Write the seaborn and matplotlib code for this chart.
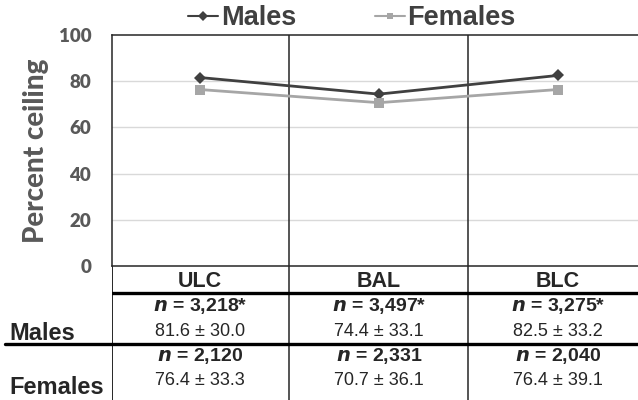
import pandas as pd
import matplotlib.pyplot as plt
from matplotlib.lines import Line2D
import seaborn as sns

regions = ['ULC', 'BAL', 'BLC']
male_mean = [81.6, 74.4, 82.5]
female_mean = [76.4, 70.7, 76.4]
male_sd = [30.0, 33.1, 33.2]
female_sd = [33.3, 36.1, 39.1]
male_n = ['3,218*', '3,497*', '3,275*']
female_n = ['2,120', '2,331', '2,040']
y_ticks = [0, 20, 40, 60, 80, 100]

df = pd.DataFrame({
    'Region': regions * 2,
    'Percent': male_mean + female_mean,
    'Sex': ['Males'] * 3 + ['Females'] * 3,
})

sns.set_style('white')
plt.rcParams['font.family'] = ['Liberation Sans', 'DejaVu Sans']

W, H = 638, 400
fig = plt.figure(figsize=(W / 100, H / 100), dpi=100)

def px_axes(x0, y0, x1, y1):
    return fig.add_axes([x0 / W, 1 - y1 / H, (x1 - x0) / W, (y1 - y0) / H])

ax = px_axes(112, 35, 638, 266)
colors = {'Males': '#404040', 'Females': '#a6a6a6'}
sns.lineplot(data=df, x='Region', y='Percent', hue='Sex', style='Sex',
             markers={'Males': 'D', 'Females': 's'}, dashes=False,
             palette=colors, sort=False, linewidth=2, markersize=6.5,
             markeredgewidth=0, ax=ax, legend=False, zorder=3)

ax.set_xlim(-0.49, 2.447)
ax.set_ylim(0, 100)
ax.set_yticks(y_ticks)
ax.set_yticklabels([str(t) for t in y_ticks], family='Lato', fontweight='heavy',
                   fontsize=13.5, color='#595959')
ax.tick_params(axis='y', length=0, pad=15)
ax.set_xticks([])
ax.set_xlabel('')
ax.set_ylabel('Percent ceiling', family='Lato', fontweight='black', fontsize=20,
              color='#595959', labelpad=7)
for t in y_ticks[1:-1]:
    ax.axhline(t, color='#d9d9d9', lw=1, zorder=0)
for s in ['left', 'top', 'bottom']:
    ax.spines[s].set_color('#262626')
    ax.spines[s].set_linewidth(1.1)
ax.spines['right'].set_visible(False)
for xv in [0.5, 1.5]:
    ax.axvline(xv, color='#262626', lw=1.1)

# table below the plot, sharing the category positions
tab = px_axes(112, 266, 638, 400)
tab.set_xlim(ax.get_xlim())
tab.set_ylim(400, 266)
tab.axis('off')
tab.axvline(-0.49, color='#262626', lw=1.4)
for xv in [0.5, 1.5]:
    tab.axvline(xv, color='#262626', lw=1.1)
tab.axhline(293, color='black', lw=2.4)
tab.plot([-0.49 - 107 / 179, 2.447], [344, 344], color='black', lw=2.4, clip_on=False)

for i, r in enumerate(regions):
    tab.text(i, 281, r, ha='center', va='center', fontsize=15.5, fontweight='bold')
    tab.text(i, 306, f'$\\boldsymbol{{n}}$ = {male_n[i]}', ha='center', va='center',
             fontsize=14, fontweight='bold')
    tab.text(i, 331, f'{male_mean[i]:.1f} ± {male_sd[i]:.1f}', ha='center',
             va='center', fontsize=13)
    tab.text(i, 356, f'$\\boldsymbol{{n}}$ = {female_n[i]}', ha='center', va='center',
             fontsize=14, fontweight='bold')
    tab.text(i, 380, f'{female_mean[i]:.1f} ± {female_sd[i]:.1f}', ha='center',
             va='center', fontsize=13)

fig.text(9 / W, 1 - 333 / H, 'Males', ha='left', va='center', fontsize=17,
         fontweight='bold')
fig.text(9 / W, 1 - 387 / H, 'Females', ha='left', va='center', fontsize=17,
         fontweight='bold')

handles = [Line2D([], [], color=colors[s], marker=m, markersize=5, lw=1.5,
                  markeredgewidth=0) for s, m in [('Males', 'D'), ('Females', 's')]]
fig.legend(handles, ['Males', 'Females'], loc='center', ncol=2,
           bbox_to_anchor=(352 / W, 1 - 18 / H), frameon=False,
           prop={'weight': 'bold', 'size': 19.5}, labelcolor='#404040',
           handlelength=1.1, handletextpad=0.1, columnspacing=2.9)

fig.savefig('out.png', dpi=100)
